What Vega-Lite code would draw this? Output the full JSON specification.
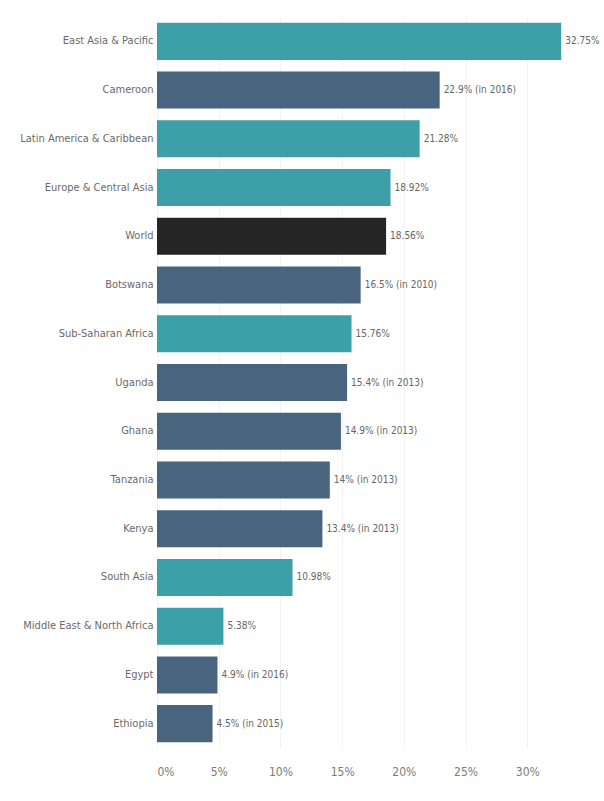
{
  "$schema": "https://vega.github.io/schema/vega-lite/v6.json",
  "autosize": "none",
  "width": 432,
  "height": 731,
  "padding": {"left": 157, "top": 17, "right": 15, "bottom": 53},
  "background": "white",
  "config": {
    "view": {"stroke": null},
    "font": "DejaVu Sans Condensed, sans-serif"
  },
  "data": {
    "values": [
      {"name": "East Asia & Pacific", "value": 0.3275, "label": "32.75%", "kind": "Region"},
      {"name": "Cameroon", "value": 0.229, "label": "22.9% (in 2016)", "kind": "Country"},
      {"name": "Latin America & Caribbean", "value": 0.2128, "label": "21.28%", "kind": "Region"},
      {"name": "Europe & Central Asia", "value": 0.1892, "label": "18.92%", "kind": "Region"},
      {"name": "World", "value": 0.1856, "label": "18.56%", "kind": "World"},
      {"name": "Botswana", "value": 0.165, "label": "16.5% (in 2010)", "kind": "Country"},
      {"name": "Sub-Saharan Africa", "value": 0.1576, "label": "15.76%", "kind": "Region"},
      {"name": "Uganda", "value": 0.154, "label": "15.4% (in 2013)", "kind": "Country"},
      {"name": "Ghana", "value": 0.149, "label": "14.9% (in 2013)", "kind": "Country"},
      {"name": "Tanzania", "value": 0.14, "label": "14% (in 2013)", "kind": "Country"},
      {"name": "Kenya", "value": 0.134, "label": "13.4% (in 2013)", "kind": "Country"},
      {"name": "South Asia", "value": 0.1098, "label": "10.98%", "kind": "Region"},
      {"name": "Middle East & North Africa", "value": 0.0538, "label": "5.38%", "kind": "Region"},
      {"name": "Egypt", "value": 0.049, "label": "4.9% (in 2016)", "kind": "Country"},
      {"name": "Ethiopia", "value": 0.045, "label": "4.5% (in 2015)", "kind": "Country"}
    ]
  },
  "encoding": {
    "y": {
      "field": "name",
      "type": "nominal",
      "sort": null,
      "scale": {"paddingInner": 0.24, "paddingOuter": 0.12},
      "axis": {
        "title": null,
        "domain": false,
        "ticks": false,
        "labelPadding": 4,
        "labelFontSize": 11,
        "labelColor": "#6a6a6a",
        "labelFont": "DejaVu Sans Condensed, sans-serif"
      }
    },
    "x": {
      "field": "value",
      "type": "quantitative",
      "scale": {"domain": [0, 0.35]},
      "axis": {
        "title": null,
        "format": ".0%",
        "values": [0, 0.05, 0.1, 0.15, 0.2, 0.25, 0.3],
        "domain": false,
        "ticks": false,
        "grid": true,
        "gridColor": "#f3f3f3",
        "labelPadding": 18,
        "labelFontSize": 12,
        "labelColor": "#7a7a7a",
        "labelFont": "DejaVu Sans Condensed, sans-serif"
      }
    }
  },
  "layer": [
    {
      "mark": {"type": "bar"},
      "encoding": {
        "color": {
          "field": "kind",
          "type": "nominal",
          "scale": {"domain": ["Region", "Country", "World"], "range": ["#3d9fa8", "#48647f", "#252525"]},
          "legend": null
        }
      }
    },
    {
      "mark": {"type": "text", "align": "left", "baseline": "middle", "dx": 4, "fontSize": 10, "color": "#666666", "font": "DejaVu Sans Condensed, sans-serif"},
      "encoding": {"text": {"field": "label"}}
    }
  ]
}
